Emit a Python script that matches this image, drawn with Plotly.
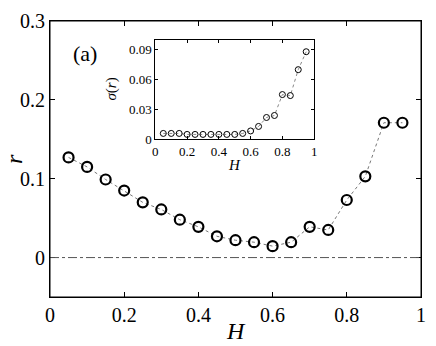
import plotly.graph_objects as go

# H values and mean order parameter r
H = [0.05, 0.10, 0.15, 0.20, 0.25, 0.30, 0.35, 0.40, 0.45, 0.50,
     0.55, 0.60, 0.65, 0.70, 0.75, 0.80, 0.85, 0.90, 0.95]
r_mean = [0.127, 0.115, 0.099, 0.085, 0.070, 0.061, 0.048, 0.039, 0.027, 0.022,
          0.0195, 0.0145, 0.0195, 0.039, 0.035, 0.073, 0.103, 0.171, 0.171]
# standard deviation of r (inset)
r_std = [0.006, 0.006, 0.006, 0.005, 0.005, 0.005, 0.005, 0.005, 0.005, 0.005,
         0.006, 0.0085, 0.013, 0.022, 0.024, 0.045, 0.044, 0.070, 0.088]

main_xticks = [0, 0.2, 0.4, 0.6, 0.8, 1]
main_xlabels = ["0", "0.2", "0.4", "0.6", "0.8", "1"]
main_yticks = [0, 0.1, 0.2, 0.3]
main_ylabels = ["0", "0.1", "0.2", "0.3"]
inset_yticks = [0, 0.03, 0.06, 0.09]
inset_ylabels = ["0", "0.03", "0.06", "0.09"]

FONT = "Times New Roman"

fig = go.Figure()

fig.add_trace(go.Scatter(
    x=H, y=r_mean, mode="lines+markers",
    line=dict(color="#777777", width=1, dash="dot"),
    marker=dict(symbol="circle-open", size=10, color="black",
                line=dict(width=2.2, color="black")),
    showlegend=False, xaxis="x", yaxis="y",
))

fig.add_trace(go.Scatter(
    x=H, y=r_std, mode="lines+markers",
    line=dict(color="#888888", width=1, dash="dot"),
    marker=dict(symbol="circle-open", size=6, color="black",
                line=dict(width=1, color="black")),
    showlegend=False, xaxis="x2", yaxis="y2",
))

axis_common = dict(showline=True, linecolor="black", linewidth=1, mirror="allticks",
                   ticks="inside", tickcolor="black", showgrid=False, zeroline=False)

fig.update_layout(
    width=436, height=346,
    margin=dict(l=50, r=10, t=15, b=49),
    paper_bgcolor="white", plot_bgcolor="white",
    font=dict(family=FONT, color="black"),
    xaxis=dict(range=[0, 1.0001], tickvals=main_xticks, ticktext=main_xlabels,
               ticklen=5, tickfont=dict(size=20, family=FONT, color="black"),
               **axis_common),
    yaxis=dict(range=[-0.05, 0.3], tickvals=main_yticks, ticktext=main_ylabels,
               ticklen=5, tickfont=dict(size=20, family=FONT, color="black"),
               **axis_common),
    xaxis3=dict(overlaying="x", side="top", anchor="y", range=[0, 1.0001],
                tickvals=main_xticks, showticklabels=False, ticks="inside",
                ticklen=5, tickcolor="black", showgrid=False, zeroline=False),
    yaxis3=dict(overlaying="y", side="right", anchor="x", range=[-0.05, 0.3],
                tickvals=main_yticks, showticklabels=False, ticks="inside",
                ticklen=5, tickcolor="black", showgrid=False, zeroline=False),
    xaxis2=dict(domain=[0.284, 0.712], anchor="y2", range=[0, 1.0001],
                tickvals=main_xticks, ticktext=main_xlabels,
                ticklen=3, tickfont=dict(size=13, family=FONT, color="black"),
                **axis_common),
    yaxis2=dict(domain=[0.571, 0.932], anchor="x2", range=[0, 0.1],
                tickvals=inset_yticks, ticktext=inset_ylabels,
                ticklen=3, tickfont=dict(size=13, family=FONT, color="black"),
                **axis_common),
    shapes=[
        dict(type="line", xref="x domain", yref="y", x0=0, x1=1, y0=0, y1=0,
             line=dict(color="#555555", width=1, dash="dashdot")),
        dict(type="rect", xref="x domain", yref="y domain", x0=0, x1=1, y0=0, y1=1,
             line=dict(color="black", width=1)),
    ],
    annotations=[
        dict(text="(a)", x=0.093, y=0.259, xref="x", yref="y",
             xanchor="center", yanchor="middle",
             showarrow=False, font=dict(size=22, family=FONT)),
        dict(text="<i>H</i>", x=0.5, y=-0.122, xref="paper", yref="paper",
             xanchor="center", yanchor="middle",
             showarrow=False, font=dict(size=24, family=FONT)),
        dict(text="<i>r</i>", x=-0.097, y=0.5, xref="paper", yref="paper",
             xanchor="center", yanchor="middle",
             showarrow=False, textangle=-90, font=dict(size=24, family=FONT)),
        dict(text="<i>H</i>", x=0.5, y=-0.256, xref="x2 domain", yref="y2 domain",
             xanchor="center", yanchor="middle",
             showarrow=False, font=dict(size=15, family=FONT)),
        dict(text="<i>σ</i>(<i>r</i>)", x=-0.273, y=0.5, xref="x2 domain",
             yref="y2 domain", xanchor="center", yanchor="middle",
             showarrow=False, textangle=-90, font=dict(size=15, family=FONT)),
    ],
)

fig.write_html("out.html", config={"displayModeBar": False},
               post_script="document.body.style.margin='0';")
